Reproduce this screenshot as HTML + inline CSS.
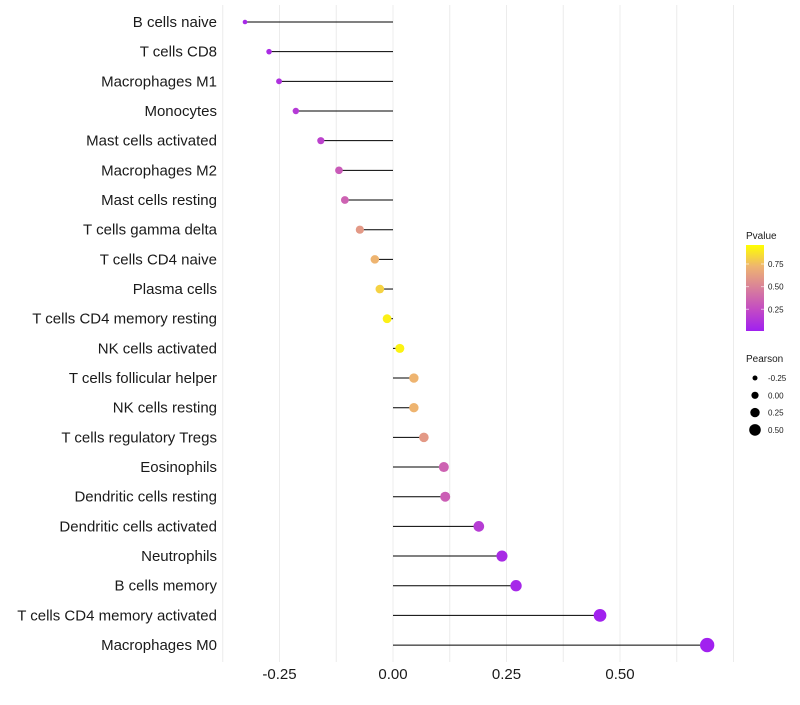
<!DOCTYPE html>
<html><head><meta charset="utf-8"><style>
body{margin:0;background:#fff;font-family:"Liberation Sans",sans-serif}
svg text{font-family:"Liberation Sans",sans-serif}
</style></head><body>
<svg id="chart" width="800" height="700"></svg>
<script>
const cells=["B cells naive","T cells CD8","Macrophages M1","Monocytes","Mast cells activated","Macrophages M2","Mast cells resting","T cells gamma delta","T cells CD4 naive","Plasma cells","T cells CD4 memory resting","NK cells activated","T cells follicular helper","NK cells resting","T cells regulatory  Tregs ","Eosinophils","Dendritic cells resting","Dendritic cells activated","Neutrophils","B cells memory","T cells CD4 memory activated","Macrophages M0"];
const pearson=[-0.326,-0.273,-0.251,-0.214,-0.159,-0.119,-0.106,-0.073,-0.040,-0.029,-0.013,0.015,0.046,0.046,0.068,0.112,0.115,0.189,0.240,0.271,0.456,0.692];
const pvalue=[0.05,0.07,0.1,0.15,0.2,0.32,0.36,0.62,0.75,0.85,0.95,0.96,0.75,0.75,0.62,0.36,0.34,0.16,0.06,0.04,0.01,0.005];
const xTicks=[-0.25,0,0.25,0.5];
const xTickLabels=["-0.25","0.00","0.25","0.50"];
const sizeLegend=[-0.25,0,0.25,0.5];
const colorTicks=[0.25,0.5,0.75];

const NS="http://www.w3.org/2000/svg";
const svg=document.getElementById('chart');
function mk(t,a,p){const e=document.createElementNS(NS,t);for(const k in a)e.setAttribute(k,a[k]);(p||svg).appendChild(e);return e;}
const x=v=>393+v*454;
const y=i=>22+i*29.67;
const r=v=>Math.sqrt(Math.max(2,20+45*v));
const stops=[[160,32,240],[195,75,196],[217,128,154],[238,180,112],[255,255,0]];
function col(p){const t=Math.max(0,Math.min(1,p))*4;const i=Math.min(3,Math.floor(t));const f=t-i;const a=stops[i],b=stops[i+1];return `rgb(${a.map((c,k)=>Math.round(c+(b[k]-c)*f)).join(',')})`;}
const cbY=p=>331-(p-0.01)*(86/0.95);

for(let k=-3;k<=6;k++){const v=k*0.125;const g=mk('line',{x1:x(v),x2:x(v),y1:5,y2:662,stroke:'#ececec','stroke-width':1});
}

cells.forEach((c,i)=>{
 const l=mk('line',{x1:x(0),x2:x(pearson[i]),y1:y(i),y2:y(i),stroke:'#000','stroke-width':1});
 
 const d=mk('circle',{cx:x(pearson[i]),cy:y(i),r:r(pearson[i]),fill:col(pvalue[i])});
 
 const t=mk('text',{x:217,y:y(i)+5,'text-anchor':'end','font-size':15,fill:'#1a1a1a'});t.textContent=c;
 
});
xTicks.forEach((v,i)=>{const t=mk('text',{x:x(v),y:679,'text-anchor':'middle','font-size':15,fill:'#1a1a1a'});t.textContent=xTickLabels[i];
});

const defs=mk('defs',{});const lg=mk('linearGradient',{id:'cg',x1:0,y1:1,x2:0,y2:0},defs);
stops.forEach((s,k)=>mk('stop',{offset:(k/4),'stop-color':`rgb(${s.join(',')})`},lg));
const tt=mk('text',{x:746,y:239,'font-size':10,fill:'#1a1a1a'});tt.textContent='Pvalue';

const cb=mk('rect',{x:746,y:245,width:18,height:86,fill:'url(#cg)'});

colorTicks.forEach(p=>{mk('line',{x1:746,x2:749,y1:cbY(p),y2:cbY(p),stroke:'#fff','stroke-opacity':0.6});mk('line',{x1:761,x2:764,y1:cbY(p),y2:cbY(p),stroke:'#fff','stroke-opacity':0.6});
 const t=mk('text',{x:768,y:cbY(p)+3,'font-size':8,fill:'#1a1a1a'});t.textContent=p.toFixed(2);
 });

const st=mk('text',{x:746,y:362,'font-size':10,fill:'#1a1a1a'});st.textContent='Pearson';

sizeLegend.forEach((v,k)=>{const cy=378+k*17.3;
 const c=mk('circle',{cx:755,cy:cy,r:2.5+k*1.1,fill:'#000'});
 
 const t=mk('text',{x:768,y:cy+3,'font-size':8,fill:'#1a1a1a'});t.textContent=v.toFixed(2);
 });
</script>
</body></html>
